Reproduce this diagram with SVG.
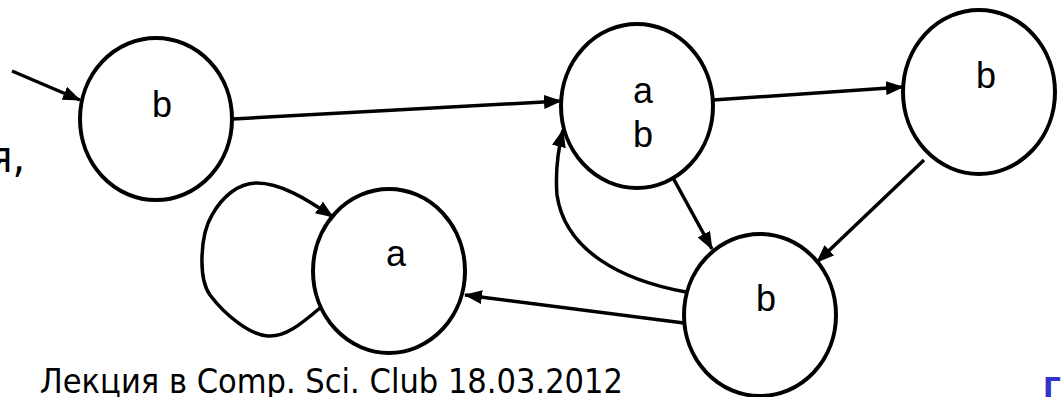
<svg xmlns="http://www.w3.org/2000/svg" width="1063" height="397" viewBox="0 0 1063 397">
  <style>
    .state { fill: #ffffff; stroke: #000000; stroke-width: 4; }
    .label { font-family: "Liberation Sans", Arial, sans-serif; font-size: 36px; fill: #000000; text-anchor: middle; }
    .edge { fill: none; stroke: #000000; stroke-width: 3.5; marker-end: url(#arrow); }
    .caption { font-family: "DejaVu Sans Condensed", "DejaVu Sans", Verdana, sans-serif; font-size: 34px; fill: #000000; }
    .body { font-size: 44px; }
  </style>
  <defs>
    <marker id="arrow" viewBox="0 0 18 14" refX="17" refY="7" markerWidth="18" markerHeight="14" markerUnits="userSpaceOnUse" orient="auto">
      <path d="M0,0 L18,7 L0,14 z" fill="#000000"/>
    </marker>
  </defs>
  <rect width="1063" height="397" fill="#ffffff"/>

  <!-- slide text fragments -->
  <text class="caption body" x="25" y="172" text-anchor="end">я,</text>
  <text class="caption" x="623" y="393" text-anchor="end">Лекция в Comp. Sci. Club 18.03.2012</text>
  <text x="1043" y="398" font-family="DejaVu Sans, sans-serif" font-weight="bold" font-size="28" fill="#3333cc">Г</text>

  <!-- transitions -->
  <g id="connectors">
    <path class="edge" d="M12,71 L80,100"/>
    <path class="edge" d="M233,119 L561,101"/>
    <path class="edge" d="M713,100 L903,87"/>
    <path class="edge" d="M924,160 L817,262"/>
    <path class="edge" d="M672,176 L712,249"/>
    <path class="edge" d="M686,292 C620,280 565,250 557,195 C555,170 558,150 563,130"/>
    <path class="edge" d="M684,323 L465,295"/>
    <path class="edge" d="M320,308 C300,325 285,337 268,336 C250,335 225,315 210,295 C198,278 200,235 212,215 C222,197 238,183 257,183 C280,183 305,198 333,217"/>
  </g>

  <!-- states -->
  <g id="state-start">
    <ellipse class="state" cx="156" cy="119" rx="76" ry="81"/>
    <text class="label" x="162" y="117">b</text>
  </g>
  <g id="state-a">
    <ellipse class="state" cx="389" cy="271" rx="76" ry="82"/>
    <text class="label" x="396" y="266">a</text>
  </g>
  <g id="state-ab">
    <ellipse class="state" cx="637" cy="106" rx="76" ry="82"/>
    <text class="label" x="643" y="103">a</text>
    <text class="label" x="643" y="147">b</text>
  </g>
  <g id="state-top-right">
    <ellipse class="state" cx="979" cy="92" rx="76" ry="82"/>
    <text class="label" x="986" y="88">b</text>
  </g>
  <g id="state-bottom">
    <ellipse class="state" cx="760" cy="315" rx="76" ry="81"/>
    <text class="label" x="766" y="311">b</text>
  </g>
</svg>
